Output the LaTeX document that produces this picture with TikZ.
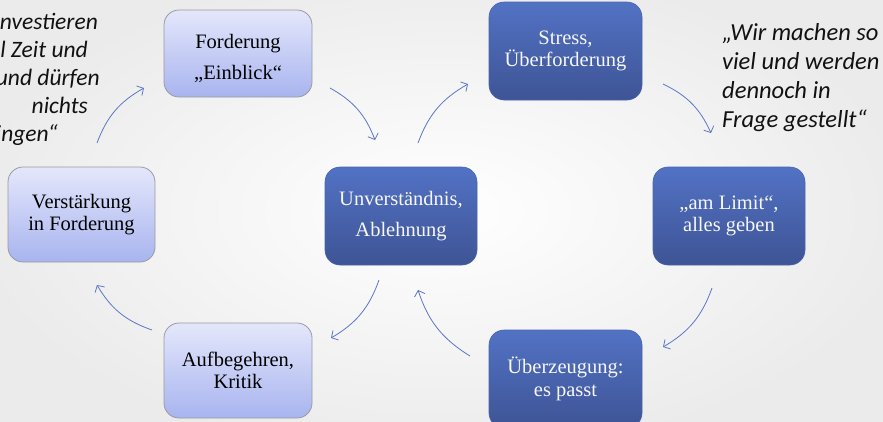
\documentclass[tikz,border=0pt]{standalone}
\usepackage{fontspec}
\setmainfont{Liberation Serif}
\newfontfamily\quotefont{Carlito}
\usetikzlibrary{arrows.meta}
\definecolor{lighttop}{HTML}{E4E7FB}
\definecolor{lightbot}{HTML}{A8B4EF}
\definecolor{lightedge}{HTML}{9A9AA0}
\definecolor{darktop}{HTML}{5272C4}
\definecolor{darkbot}{HTML}{3E5495}
\definecolor{darkedge}{HTML}{4A64B0}
\definecolor{arrowblue}{HTML}{5B77C6}
\definecolor{boxtext}{HTML}{F7F7F7}
\definecolor{quotetext}{HTML}{111111}
\begin{document}
\begin{tikzpicture}[x=1pt,y=-1pt,
  lightbox/.style={draw=lightedge, line width=0.8pt, rounded corners=15pt,
    top color=lighttop, bottom color=lightbot, align=center, text=black,
    font=\fontsize{20.5}{22.5}\selectfont, inner sep=0pt},
  darkbox/.style={draw=darkedge, line width=0.6pt, rounded corners=15pt,
    top color=darktop, bottom color=darkbot, align=center, text=boxtext,
    font=\fontsize{20.5}{22.5}\selectfont, inner sep=0pt},
  wide/.style={font=\fontsize{20.5}{31}\selectfont},
  quoteline/.style={font=\quotefont\itshape\fontsize{24.5}{29}\selectfont,
    text=quotetext, inner sep=0pt},
  leftquote/.style={quoteline, font=\quotefont\itshape\fontsize{23.5}{28}\selectfont,
    anchor=base east},
  cyc/.style={draw=arrowblue, line width=0.8pt, bend left=20,
    -{Straight Barb[length=5pt,width=11pt]}}]
\useasboundingbox (0,0) rectangle (883,421);
\shade[inner color=white, outer color=black!8] (-40,-40) rectangle (923,461);
% boxes
\node[lightbox, wide, minimum width=148pt, minimum height=87pt] (F) at (238,53.5)
  {\rule{0pt}{25pt}Forderung\\„Einblick“};
\node[darkbox, minimum width=153pt, minimum height=98pt] (S) at (565.5,51)
  {Stress,\\Überforderung};
\node[darkbox, wide, minimum width=152pt, minimum height=98pt] (U) at (401,216)
  {Unverständnis,\\Ablehnung};
\node[lightbox, minimum width=147pt, minimum height=95pt] (V) at (81.5,214.5)
  {Verstärkung\\in Forderung};
\node[darkbox, minimum width=152pt, minimum height=98pt] (L) at (729,216)
  {„am Limit“,\\alles geben};
\node[lightbox, minimum width=148pt, minimum height=95pt] (A) at (238,370.5)
  {Aufbegehren,\\Kritik};
\node[darkbox, minimum width=153pt, minimum height=98pt] (Z) at (565.5,379)
  {Überzeugung:\\es passt};
% quotes
\node[leftquote] (ql1) at (98,29) {investieren};
\node[leftquote] (ql2) at (88,57) {l Zeit und};
\node[leftquote] (ql3) at (100,85) {und dürfen};
\node[leftquote] (ql4) at (88,113) {nichts};
\node[leftquote] (ql5) at (58,141) {ingen“};
\node[quoteline, anchor=base west] (qr1) at (722,40) {„Wir machen so};
\node[quoteline, anchor=base west] (qr2) at (722,69) {viel und werden};
\node[quoteline, anchor=base west] (qr3) at (722,98) {dennoch in};
\node[quoteline, anchor=base west] (qr4) at (722,127) {Frage gestellt“};
% arrow end points
\coordinate (a1s) at (97,143);  \coordinate (a1e) at (144,88);
\coordinate (a2s) at (330,88);  \coordinate (a2e) at (375,140);
\coordinate (a3s) at (418,143); \coordinate (a3e) at (468,84);
\coordinate (a4s) at (663,84);  \coordinate (a4e) at (711,133);
\coordinate (a5s) at (712,288); \coordinate (a5e) at (663,347);
\coordinate (a6s) at (470,356); \coordinate (a6e) at (418,290);
\coordinate (a7s) at (379,280); \coordinate (a7e) at (331,338);
\coordinate (a8s) at (152,330); \coordinate (a8e) at (97,285);
\draw[cyc] (a1s) to (a1e);
\draw[cyc] (a2s) to (a2e);
\draw[cyc] (a3s) to (a3e);
\draw[cyc] (a4s) to (a4e);
\draw[cyc] (a5s) to (a5e);
\draw[cyc] (a6s) to (a6e);
\draw[cyc] (a7s) to (a7e);
\draw[cyc] (a8s) to (a8e);
\end{tikzpicture}
\end{document}
